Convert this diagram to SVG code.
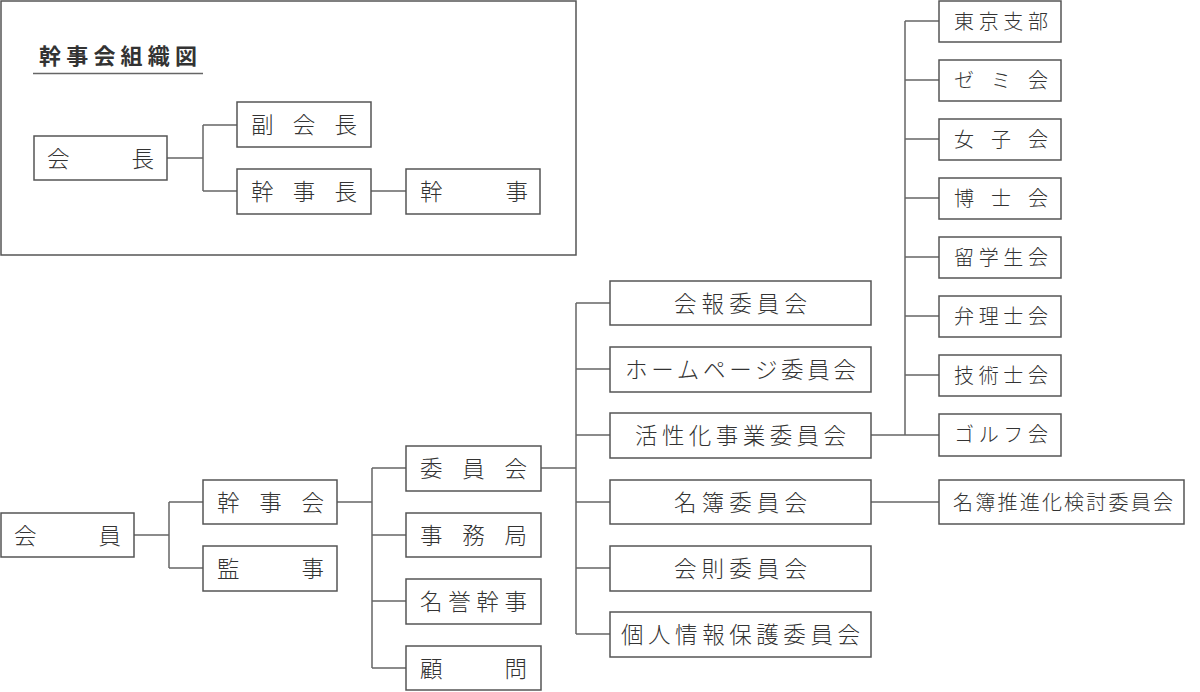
<svg xmlns="http://www.w3.org/2000/svg" width="1200" height="692" viewBox="0 0 1200 692">
<style>
.b{fill:#fff;stroke:#555;stroke-width:1.5}
.f{fill:none;stroke:#555;stroke-width:1.5}
.c{fill:none;stroke:#666;stroke-width:1.5}
text{font-family:"Noto Sans CJK JP","Noto Sans",sans-serif;fill:#333;font-size:22.5px;font-weight:300}
.s{font-size:20px}
.t{font-size:22px;font-weight:bold}
</style>
<rect width="1200" height="692" fill="#fff"/>
<g id="frame">
<rect class="f" x="1" y="1" width="575" height="254"/>
<text class="t" x="39" y="64" textLength="158" lengthAdjust="spacing">幹事会組織図</text>
<line class="c" x1="33" y1="73.5" x2="203" y2="73.5"/>
</g>
<g id="connectors">
<path class="c" d="M167 158H203M203 125V191M203 125H237M203 191H237M371 191H406"/>
<path class="c" d="M134 535H169M169 502V568M169 502H203M169 568H203"/>
<path class="c" d="M337 502H372M372 468V668M372 468H406M372 535H406M372 601H406M372 668H406"/>
<path class="c" d="M541 468H576M576 303V634M576 303H610M576 369H610M576 435H610M576 502H610M576 568H610M576 634H610"/>
<path class="c" d="M871 435H905M905 21V435M905 21H939M905 80H939M905 139H939M905 198H939M905 257H939M905 316H939M905 375H939M905 435H939"/>
<path class="c" d="M871 502H939"/>
</g>
<g id="n-kaicho"><rect class="b" x="34" y="136" width="133" height="44"/><text x="47" y="166.5" textLength="107" lengthAdjust="spacing">会長</text></g>
<g id="n-fukukaicho"><rect class="b" x="237" y="102" width="134" height="45"/><text x="251" y="133" textLength="106" lengthAdjust="spacing">副会長</text></g>
<g id="n-kanjicho"><rect class="b" x="237" y="169" width="134" height="45"/><text x="251" y="200" textLength="106" lengthAdjust="spacing">幹事長</text></g>
<g id="n-kanji"><rect class="b" x="406" y="169" width="134" height="45"/><text x="420" y="200" textLength="108" lengthAdjust="spacing">幹事</text></g>

<g id="n-kaiin"><rect class="b" x="1" y="513" width="133" height="44"/><text x="14" y="543.5" textLength="107" lengthAdjust="spacing">会員</text></g>
<g id="n-kanjikai"><rect class="b" x="203" y="480" width="134" height="44"/><text x="217" y="510.5" textLength="107" lengthAdjust="spacing">幹事会</text></g>
<g id="n-kanji2"><rect class="b" x="203" y="546" width="134" height="45"/><text x="217" y="577" textLength="107" lengthAdjust="spacing">監事</text></g>
<g id="n-iinkai"><rect class="b" x="406" y="446" width="135" height="45"/><text x="420" y="476.5" textLength="107" lengthAdjust="spacing">委員会</text></g>
<g id="n-jimukyoku"><rect class="b" x="406" y="513" width="135" height="44"/><text x="420" y="543.5" textLength="107" lengthAdjust="spacing">事務局</text></g>
<g id="n-meiyo"><rect class="b" x="406" y="579" width="135" height="45"/><text x="420" y="610" textLength="107" lengthAdjust="spacing">名誉幹事</text></g>
<g id="n-komon"><rect class="b" x="406" y="646" width="135" height="44"/><text x="420" y="676.5" textLength="107" lengthAdjust="spacing">顧問</text></g>

<g id="n-kaiho"><rect class="b" x="610" y="281" width="261" height="44"/><text x="674" y="311.5" textLength="133" lengthAdjust="spacing">会報委員会</text></g>
<g id="n-hp"><rect class="b" x="610" y="347" width="261" height="45"/><text x="625" y="378" textLength="231" lengthAdjust="spacing">ホームページ委員会</text></g>
<g id="n-kasseika"><rect class="b" x="610" y="413" width="261" height="45"/><text x="635" y="444" textLength="211" lengthAdjust="spacing">活性化事業委員会</text></g>
<g id="n-meibo"><rect class="b" x="610" y="480" width="261" height="44"/><text x="674" y="510.5" textLength="133" lengthAdjust="spacing">名簿委員会</text></g>
<g id="n-kaisoku"><rect class="b" x="610" y="546" width="261" height="45"/><text x="674" y="577" textLength="133" lengthAdjust="spacing">会則委員会</text></g>
<g id="n-kojin"><rect class="b" x="610" y="612" width="261" height="45"/><text x="621" y="643" textLength="239" lengthAdjust="spacing">個人情報保護委員会</text></g>

<g id="n-tokyo"><rect class="b" x="939" y="1" width="122" height="41"/><text class="s" x="954" y="28.5" textLength="94" lengthAdjust="spacing">東京支部</text></g>
<g id="n-zemi"><rect class="b" x="939" y="60" width="122" height="41"/><text class="s" x="954" y="87.5" textLength="94" lengthAdjust="spacing">ゼミ会</text></g>
<g id="n-joshi"><rect class="b" x="939" y="119" width="122" height="41"/><text class="s" x="954" y="146.5" textLength="94" lengthAdjust="spacing">女子会</text></g>
<g id="n-hakase"><rect class="b" x="939" y="178" width="122" height="41"/><text class="s" x="954" y="205.5" textLength="94" lengthAdjust="spacing">博士会</text></g>
<g id="n-ryugaku"><rect class="b" x="939" y="237" width="122" height="41"/><text class="s" x="954" y="264.5" textLength="94" lengthAdjust="spacing">留学生会</text></g>
<g id="n-benri"><rect class="b" x="939" y="296" width="122" height="41"/><text class="s" x="954" y="323.5" textLength="94" lengthAdjust="spacing">弁理士会</text></g>
<g id="n-gijutsu"><rect class="b" x="939" y="355" width="122" height="41"/><text class="s" x="954" y="382.5" textLength="94" lengthAdjust="spacing">技術士会</text></g>
<g id="n-golf"><rect class="b" x="939" y="414" width="122" height="42"/><text class="s" x="954" y="442" textLength="94" lengthAdjust="spacing">ゴルフ会</text></g>
<g id="n-meibosuishin"><rect class="b" x="939" y="480" width="245" height="44"/><text class="s" x="953" y="509.5" textLength="220" lengthAdjust="spacing">名簿推進化検討委員会</text></g>
</svg>
